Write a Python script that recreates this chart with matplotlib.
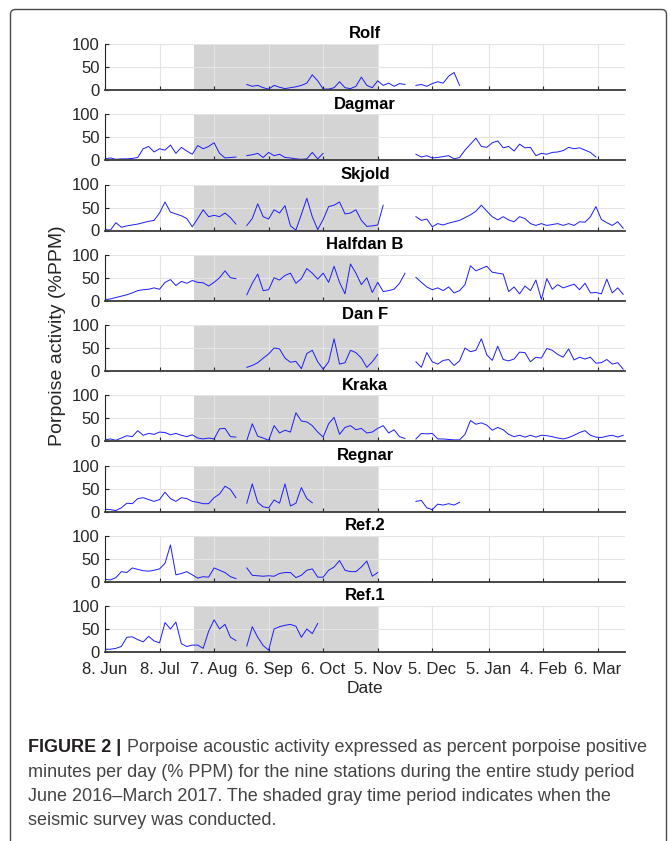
import numpy as np
import matplotlib
matplotlib.use('Agg')
import matplotlib.pyplot as plt
from matplotlib.patches import FancyBboxPatch

plt.rcParams['font.family'] = ['Liberation Sans', 'DejaVu Sans']

start_day = np.datetime64('2016-06-08')
step_days = 3

stations = ['Rolf', 'Dagmar', 'Skjold', 'Halfdan B', 'Dan F',
            'Kraka', 'Regnar', 'Ref.2', 'Ref.1']

rolf = [None] * 26 + [
    12, 8, 10, 5, 2, 10, 6, 3, 5, 7, 10, 15, 33, 20, 2, 2, 5, 18, 5, 3,
    8, 28, 10, 5, 20, 10, 15, 8, 14, 12] + [None] + [
    10, 12, 8, 14, 18, 15, 30, 38, 10] + [None] * 30

dagmar = [
    3, 5, 2, 3, 3, 4, 6, 25, 30, 18, 25, 22, 33, 15, 28, 20, 13, 32, 25, 30,
    38, 15, 5, 6, 7] + [None] + [
    10, 12, 15, 6, 17, 10, 13, 6, 5, 3, 2, 3, 17, 3, 15] + [None] * 16 + [
    13, 7, 10, 5, 6, 8, 10, 3, 6, 22, 35, 48, 30, 28, 38, 42, 27, 30, 20, 35,
    27, 28, 10, 15, 13, 17, 18, 21, 28, 25, 27, 22, 17, 7] + [None] * 5

skjold = [
    2, 1, 17, 7, 10, 12, 14, 17, 20, 22, 38, 62, 40, 36, 32, 26, 8,
    26, 45, 30, 33, 30, 38, 28, 14] + [None] + [
    11, 26, 58, 30, 25, 45, 38, 54, 10, 1, 35, 70, 30, 2, 24, 52, 55, 62, 36, 38,
    45, 22, 9, 10, 12, 55] + [None] * 5 + [
    30, 22, 25, 8, 15, 12, 16, 19, 22, 28, 34, 42, 55, 42, 30, 23, 30, 23, 19, 30,
    26, 15, 11, 15, 11, 13, 15, 11, 15, 11, 19, 18, 30, 52, 24, 17, 11, 19, 5]

halfdan = [
    2, 4, 7, 10, 13, 17, 22, 24, 25, 28, 25, 40, 46, 33, 42, 38, 44,
    40, 39, 32, 40, 50, 65, 50, 48] + [None] + [
    13, 38, 58, 22, 24, 50, 45, 55, 60, 38, 48, 70, 60, 47, 60, 40, 75, 40, 15, 80,
    60, 35, 50, 18, 40, 20, 22, 25, 38, 60] + [None] + [
    51, 40, 30, 24, 28, 22, 30, 17, 22, 35, 76, 65, 70, 75, 62, 60, 58, 20, 30, 15,
    32, 22, 45, 3, 48, 25, 35, 28, 32, 36, 24, 38, 17, 18, 15, 47, 17, 28, 14]

dan_f = [None] * 26 + [
    8, 12, 18, 28, 37, 50, 48, 28, 19, 21, 5, 38, 45, 20, 4, 20, 70, 15, 18, 45,
    40, 28, 8, 20, 36] + [None] * 6 + [
    20, 8, 40, 20, 15, 23, 25, 12, 22, 50, 42, 45, 70, 35, 23, 54, 25, 22, 26, 41,
    40, 20, 30, 28, 49, 45, 36, 30, 48, 24, 30, 26, 30, 17, 18, 25, 15, 18, 4]

kraka = [
    3, 5, 2, 7, 12, 10, 23, 13, 17, 15, 20, 19, 14, 17, 13, 10, 14, 7, 5, 7,
    5, 27, 28, 10, 9] + [None] + [
    2, 38, 11, 7, 2, 34, 18, 24, 20, 62, 44, 42, 34, 20, 9, 38, 52, 15, 30, 34,
    25, 28, 18, 20, 28, 34, 18, 25, 10, 6] + [None] + [
    5, 17, 16, 17, 5, 5, 4, 3, 3, 15, 45, 37, 40, 35, 24, 30, 25, 15, 10, 13,
    9, 13, 9, 13, 12, 10, 7, 5, 8, 13, 19, 23, 13, 9, 8, 11, 13, 9, 13]

regnar = [
    5, 4, 2, 8, 18, 17, 28, 30, 26, 22, 26, 42, 28, 22, 30, 28, 22, 20, 17, 17,
    30, 38, 55, 48, 30] + [None] + [
    18, 60, 20, 10, 8, 25, 18, 60, 12, 18, 52, 28, 19] + [None] * 18 + [
    22, 24, 8, 4, 16, 14, 17, 14, 20] + [None] * 30

ref2 = [
    5, 4, 9, 22, 20, 30, 27, 24, 23, 25, 28, 40, 80, 15, 18, 22, 15, 8, 11, 10,
    30, 25, 20, 11, 7] + [None] + [
    30, 14, 13, 12, 13, 12, 18, 20, 20, 9, 14, 25, 28, 10, 10, 25, 32, 46, 25, 22,
    22, 32, 45, 12, 20] + [None] * 45

ref1 = [
    6, 6, 8, 12, 32, 33, 27, 22, 34, 24, 20, 64, 50, 65, 18, 12, 15, 15, 8, 45,
    70, 50, 60, 32, 25] + [None] + [
    13, 55, 32, 14, 4, 50, 55, 58, 60, 56, 32, 50, 40, 62] + [None] * 56

series = [rolf, dagmar, skjold, halfdan, dan_f, kraka, regnar, ref2, ref1]

survey_start = np.datetime64('2016-07-27')
survey_end = np.datetime64('2016-11-05')
x_end = np.datetime64('2017-03-21')

tick_dates = np.array(['2016-06-08', '2016-07-08', '2016-08-07', '2016-09-06',
                       '2016-10-06', '2016-11-05', '2016-12-05', '2017-01-05',
                       '2017-02-04', '2017-03-06'], dtype='datetime64[D]')
tick_labels = ['8. Jun', '8. Jul', '7. Aug', '6. Sep', '6. Oct', '5. Nov',
               '5. Dec', '5. Jan', '4. Feb', '6. Mar']

caption_head = 'FIGURE 2 |'
caption_lines = [
    'Porpoise acoustic activity expressed as percent porpoise positive',
    'minutes per day (% PPM) for the nine stations during the entire study period',
    'June 2016\u2013March 2017. The shaded gray time period indicates when the',
    'seismic survey was conducted.',
]

W, H = 670, 841
fig = plt.figure(figsize=(W / 100, H / 100), dpi=100)

# frame round the figure (bottom edge runs off the page)
frame = FancyBboxPatch((10.5, -20), 656, H - 9.5 + 20,
                       boxstyle='round,pad=0,rounding_size=5',
                       transform=None, fill=False, edgecolor='#4a4a4a', lw=1.0)
fig.add_artist(frame)

axis_color = '#262626'
for i, (name, vals) in enumerate(zip(stations, series)):
    top = 44 + 70.25 * i
    ax = fig.add_axes([105 / W, 1 - (top + 46) / H, 520 / W, 46 / H])
    y = np.array(vals, dtype=float)
    x = start_day + np.arange(len(y)) * step_days
    ax.axvspan(survey_start, survey_end, color='#d4d4d4', lw=0, zorder=0.2)
    ax.plot(x, y, color='#1c1cf5', lw=0.7, zorder=2)
    ax.set_xlim(start_day, x_end)
    ax.set_ylim(0, 100)
    ax.set_yticks([0, 50, 100])
    ax.set_xticks(tick_dates)
    ax.set_xticklabels(tick_labels)
    ax.grid(True, color='#e4e4e4', lw=0.8)
    ax.set_axisbelow(True)
    for s in ['top', 'right']:
        ax.spines[s].set_visible(False)
    ax.spines['left'].set_color(axis_color)
    ax.spines['left'].set_linewidth(0.8)
    ax.spines['bottom'].set_color('#3a3a3a')
    ax.spines['bottom'].set_linewidth(1.3)
    ax.tick_params(direction='in', length=3, width=0.8, colors=axis_color,
                   labelsize=12, pad=4)
    ax.tick_params(axis='x', pad=7)
    ax.set_title(name, fontsize=12, fontweight='bold', pad=4)
    if i < len(stations) - 1:
        ax.tick_params(labelbottom=False)
    else:
        ax.set_xlabel('Date', fontsize=12.5, color=axis_color, labelpad=3)

fig.text(58 / W, 1 - 336 / H, 'Porpoise activity (%PPM)', rotation=90,
         ha='center', va='center', fontsize=14, color=axis_color)

# caption, sized so that the first line spans the same width as in the figure
cap_left, cap_width = 28, 615
baselines = [752, 777, 801, 825]
cap_fs = 13.0
head = fig.text(cap_left / W, 1 - baselines[0] / H, caption_head, fontsize=cap_fs,
                fontweight='bold', color='#231f20', va='baseline')
body = [fig.text(cap_left / W, 1 - b / H, t, fontsize=cap_fs, color='#444444',
                 va='baseline') for t, b in zip(caption_lines, baselines)]
fig.canvas.draw()
renderer = fig.canvas.get_renderer()


def px_width(t):
    return t.get_window_extent(renderer).width


gap = 0.3
total = px_width(head) + px_width(body[0]) + gap * cap_fs * 100 / 72
cap_fs *= cap_width / total
for t in [head] + body:
    t.set_fontsize(cap_fs)
body[0].set_x((cap_left + px_width(head) + gap * cap_fs * 100 / 72) / W)

fig.savefig('out.png', dpi=100)
